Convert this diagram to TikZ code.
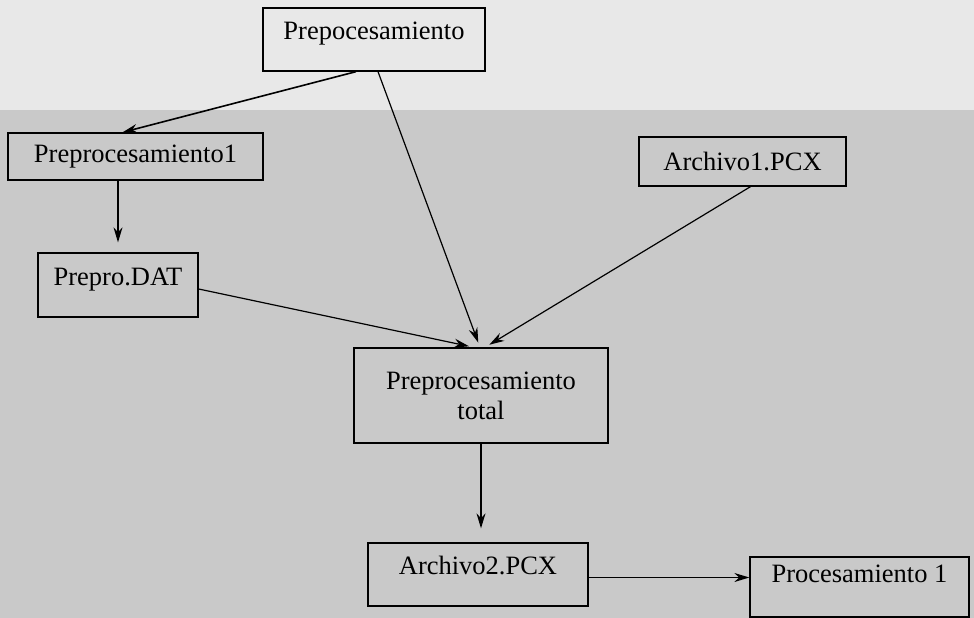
\documentclass[tikz,border=0pt]{standalone}
\usepackage{fontspec}
\setmainfont{Liberation Serif}
\usetikzlibrary{arrows.meta}

\tikzset{
  caja/.style={draw, line width=1.3pt, inner sep=0pt, align=center, font=\fontsize{26.5}{30}\selectfont},
  alto/.style={text height=18pt, text depth=#1},
  flecha/.style={line width=1.2pt, -{Stealth[length=15pt, width=9pt]}}
}

\begin{document}
\begin{tikzpicture}[x=1pt, y=-1pt]
\useasboundingbox (0,0) rectangle (974,618);
\fill[black!21] (0,0) rectangle (974,618);
\fill[black!9] (0,0) rectangle (974,110);

\node[caja, alto=18pt, minimum width=222pt, minimum height=63pt] (pre) at (374,39.5) {Prepocesamiento};
\node[caja, minimum width=255pt, minimum height=47pt] (pre1) at (135.5,156.5) {Preprocesamiento1};
\node[caja, minimum width=207pt, minimum height=49pt] (arch1) at (742.5,161.5) {Archivo1.PCX};
\node[caja, alto=18pt, minimum width=160pt, minimum height=64pt] (dat) at (118,285) {Prepro.DAT};
\node[caja, minimum width=254pt, minimum height=95pt] (total) at (481,395.5) {Preprocesamiento\\ total};
\node[caja, alto=18pt, minimum width=220pt, minimum height=63pt] (arch2) at (478,574.5) {Archivo2.PCX};
\node[caja, alto=28pt, minimum width=219pt, minimum height=60pt] (proc) at (859.5,587) {Procesamiento 1};

\draw[flecha, line width=1.6pt] ([xshift=-18pt]pre.south) -- ([xshift=-13pt]pre1.north);
\draw[flecha, shorten >=5pt] ([xshift=4pt]pre.south) -- ([xshift=-1pt]total.north);
\draw[flecha, shorten >=10pt] (dat.north |- pre1.south) -- (dat.north);
\draw[flecha, shorten >=5pt] ([yshift=-4pt]dat.east) -- ([xshift=-7pt]total.north);
\draw[flecha, shorten >=5pt] ([xshift=8pt]arch1.south) -- ([xshift=4pt]total.north);
\draw[flecha, shorten >=14pt] (total.south) -- (total.south |- arch2.north);
\draw[flecha] ([yshift=-3pt]arch2.east) -- ([yshift=-3pt]arch2.east -| proc.west);
\end{tikzpicture}
\end{document}
